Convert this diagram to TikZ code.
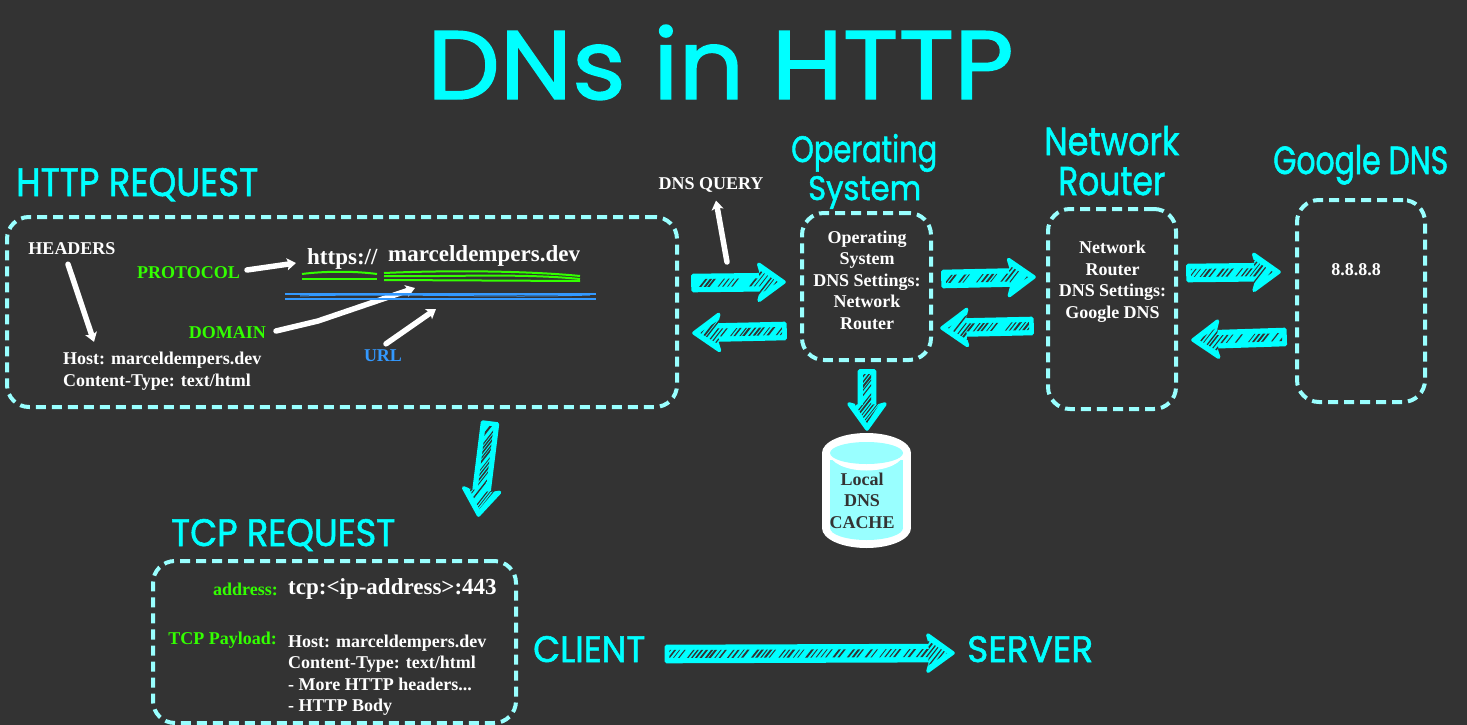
\documentclass[tikz,border=0pt]{standalone}
\usepackage{fontspec}
\usepackage{graphicx}
\setmainfont{Liberation Serif}[BoldFont={Liberation Serif Bold}]
\newfontfamily\handfont[FakeBold=1.5]{Poppins}
\usetikzlibrary{arrows.meta,calc}
\definecolor{bgdark}{HTML}{333333}
\definecolor{cyanhand}{HTML}{00FFFF}
\definecolor{boxcyan}{HTML}{99FFFF}
\definecolor{labgreen}{HTML}{33FF00}
\definecolor{labblue}{HTML}{3399FF}
\tikzset{
  dbox/.style={draw=boxcyan,line width=4pt,rounded corners=22pt,dash pattern=on 10pt off 6pt,inner sep=0pt},
  txt/.style={text=white,font=\fontsize{18}{21.5}\selectfont\bfseries,align=center,inner sep=0pt},
  txtl/.style={txt,align=left},
  bigtxt/.style={text=white,font=\fontsize{23}{27}\selectfont\bfseries,inner sep=0pt},
  grn/.style={txt,text=labgreen},
  handlab/.style={text=cyanhand,inner sep=0pt,anchor=base west},
  wharrow/.style={draw=white,line width=5.5pt,line cap=round,line join=round,-{Stealth[length=9pt,width=12pt,inset=2pt]}},
  grnline/.style={draw=labgreen,line width=2pt},
  blueline/.style={draw=labblue,line width=2pt},
}
\newcommand{\handtext}[5]{\node[handlab] (#1) at (#2) {\resizebox{#3pt}{#4pt}{\handfont #5}};}
\newcommand{\fatarrow}[2]{%
  \path let \p1=($(#2)-(#1)$) in \pgfextra{%
    \pgfmathsetmacro{\faAngT}{atan2(\y1,\x1)}\global\let\faAng\faAngT
    \pgfmathsetmacro{\faLenT}{veclen(\x1,\y1)}\global\let\faLen\faLenT};
  \begin{scope}[shift={(#1)},rotate=\faAng,x=1pt,y=1pt]
    \filldraw[fill=cyanhand,draw=cyanhand,line width=3.6pt,line join=round]
      (0,-7.5) -- (\faLen-22,-7.5) -- (\faLen-25,-18) -- (\faLen,0) -- (\faLen-25,18) -- (\faLen-22,7.5) -- (0,7.5) -- cycle;
    \begin{scope}
      \clip (3,-4) -- (\faLen-24,-4) -- (\faLen-26,-13) -- (\faLen-6,0) -- (\faLen-26,13) -- (\faLen-24,4) -- (3,4) -- cycle;
      \pgfmathtruncatemacro{\faN}{\faLen/4.6}
      \foreach \i in {0,...,\faN}{
        \pgfmathsetmacro{\faT}{\i*4.6+rnd*1.6}
        \pgfmathsetmacro{\faW}{0.7+rnd*1.3}
        \pgfmathparse{rnd>0.22?1:0}
        \ifnum\pgfmathresult=1
        \draw[bgdark,line width=\faW pt]
          ($(\faT,0)+(52-\faAng:-30)$) -- ($(\faT,0)+(52-\faAng:30)$);
        \fi
      }
    \end{scope}
  \end{scope}
}
\begin{document}
\begin{tikzpicture}[x=1pt,y=-1pt]
\pgfmathsetseed{42}
\useasboundingbox (0,0) rectangle (1467,725);
\fill[bgdark] (0,0) rectangle (1467,725);

% hand lettering
\handtext{title}{427,99}{586}{74}{DNs in HTTP}
\handtext{lhttp}{16,196}{242}{28}{HTTP REQUEST}
\handtext{los}{791,162}{146}{28}{Operating}
\handtext{lsys}{808,200}{113}{24}{System}
\handtext{lnet}{1044,155}{135}{29}{Network}
\handtext{lrou}{1058,195}{107}{28}{Router}
\handtext{lgoo}{1273,174}{175}{29}{Google DNS}
\handtext{ltcp}{171,546}{224}{27}{TCP REQUEST}
\handtext{client}{533,662}{112}{26}{CLIENT}
\handtext{server}{967,662}{126}{26}{SERVER}

% dashed boxes
\node[dbox,minimum width=670pt,minimum height=190pt] (httpbox) at (342,312) {};
\node[dbox,minimum width=129pt,minimum height=147pt] (osbox) at (866.5,286.5) {};
\node[dbox,minimum width=128pt,minimum height=200pt] (routerbox) at (1112,309) {};
\node[dbox,minimum width=128pt,minimum height=202pt] (googlebox) at (1361,301) {};
\node[dbox,minimum width=363pt,minimum height=162pt] (tcpbox) at (334.5,642) {};

% http box contents
\node[txt] (headers) at (72,249) {HEADERS};
\node[txtl,anchor=west] (hosthdr) at (63,371) {Host: marceldempers.dev\\Content-Type: text/html};
\node[grn,anchor=east] (protocol) at (240,273) {PROTOCOL};
\node[grn,anchor=east] (domain) at (266,333) {DOMAIN};
\node[txt,text=labblue] (url) at (383,356) {URL};
\node[bigtxt,anchor=west] (https) at (307,259) {https://};
\node[bigtxt,anchor=west] (marcel) at (388,256) {marceldempers.dev};

% white arrows
\draw[wharrow] ($(headers.south)+(-4,9)$) -- ($(hosthdr.north west)+(31,-10)$);
\draw[wharrow] (protocol.east)++(7,-3) -- ($(https.west)+(-11,4)$);
\draw[wharrow] (domain.east)++(10,-2) -- (318,321) -- (415,288);
\draw[wharrow] ($(url.north)+(3,-6)$) -- (436,309);
\node[txt] (dnsq) at (711,185) {DNS QUERY};
\coordinate (qtail) at (727,262);
\draw[wharrow] (qtail) -- ($(dnsq.south)+(5,8)$);

% underlines
\draw[grnline] (302,274) .. controls (325,271) and (355,271) .. (377,274);
\draw[grnline] (302,279) -- (377,279);
\draw[grnline] (384,273) .. controls (450,270) and (530,271) .. (580,276);
\draw[grnline] (384,276) .. controls (450,277) and (520,273) .. (580,279);
\draw[grnline] (384,280) -- (580,281);
\draw[blueline] (285,294) -- (596,294);
\draw[blueline] (285,299) -- (596,299);
\draw[blueline,line width=1pt] (300,296) .. controls (400,293) and (500,298) .. (590,295);

% right side text
\node[txt] (ostxt) at (867,280) {Operating\\System\\DNS Settings:\\Network\\Router};
\node[txt] (routertxt) at (1112.5,281.5) {Network\\Router\\DNS Settings:\\Google DNS};
\node[txt] (dnsip) at (1356,270) {8.8.8.8};

% cylinder
\fill[white] (866.5,453) ellipse[x radius=44.5pt,y radius=20pt];
\fill[white] (866.5,528) ellipse[x radius=44.5pt,y radius=20pt];
\fill[white] (822,453) rectangle (911,528);
\fill[boxcyan] (866.5,528) ellipse[x radius=36.5pt,y radius=12pt];
\fill[boxcyan] (830,460) rectangle (903,528);
\fill[white] (866.5,453) ellipse[x radius=37pt,y radius=17.5pt];
\fill[boxcyan] (866.5,453) ellipse[x radius=36.5pt,y radius=11pt];
\path (862,433) coordinate (cachetop);
\node[txt,text=bgdark] (cache) at (862,500.5) {Local\\DNS\\CACHE};

% tcp box contents
\node[grn,anchor=east] (addr) at (278,589) {address:};
\node[bigtxt,anchor=west] (tcpaddr) at (288,589) {tcp:<ip-address>:443};
\node[grn,anchor=east] (payload) at (277,640) {TCP Payload:};
\node[txtl,anchor=west] (payloadtxt) at (288,675) {Host: marceldempers.dev\\Content-Type: text/html\\- More HTTP headers...\\- HTTP Body};

% fat arrows
\coordinate (a1s) at ($(httpbox.east)+(14,-29)$);
\coordinate (a1e) at ($(osbox.west)+(-16,-4.5)$);
\coordinate (a2s) at ($(osbox.west)+(-15,44.5)$);
\coordinate (a2e) at ($(httpbox.east)+(15,21)$);
\coordinate (a3s) at ($(osbox.east)+(10,-7.5)$);
\coordinate (a3e) at ($(routerbox.west)+(-12,-32)$);
\coordinate (a4s) at ($(routerbox.west)+(-14,17)$);
\coordinate (a4e) at ($(osbox.east)+(9,41.5)$);
\coordinate (a5s) at ($(routerbox.east)+(10,-36)$);
\coordinate (a5e) at ($(googlebox.west)+(-16,-29)$);
\coordinate (a6s) at ($(googlebox.west)+(-10,36)$);
\coordinate (a6e) at ($(routerbox.east)+(15,31)$);
\coordinate (a7s) at ($(osbox.south)+(0.5,9)$);
\coordinate (a7e) at ($(cachetop)+(5,-4)$);
\coordinate (a8s) at ($(httpbox.south)+(148,14)$);
\coordinate (a8e) at ($(tcpbox.north)+(144,-44)$);
\coordinate (a9s) at ($(client.base east)+(21,-8)$);
\coordinate (a9e) at ($(server.base west)+(-14,-9)$);
\fatarrow{a1s}{a1e}
\fatarrow{a2s}{a2e}
\fatarrow{a3s}{a3e}
\fatarrow{a4s}{a4e}
\fatarrow{a5s}{a5e}
\fatarrow{a6s}{a6e}
\fatarrow{a7s}{a7e}
\fatarrow{a8s}{a8e}
\fatarrow{a9s}{a9e}
\end{tikzpicture}
\end{document}
